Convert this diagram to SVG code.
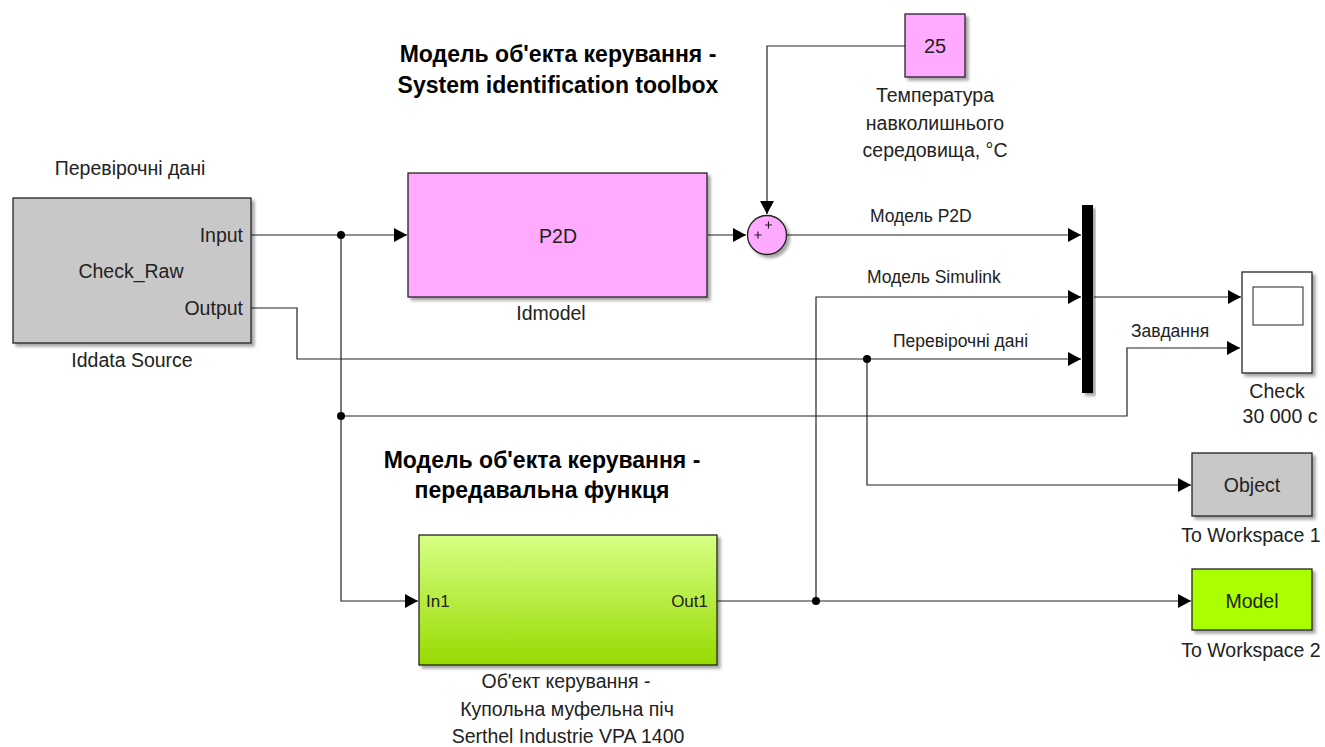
<svg xmlns="http://www.w3.org/2000/svg" width="1325" height="747" viewBox="0 0 1325 747">
<style>
text{font-family:"Liberation Sans",Arial,sans-serif;font-size:19.5px;fill:#222}
.t{font-size:23px;font-weight:bold;fill:#000}
.l{font-size:17.5px}
.p{font-size:17px}
.c{text-anchor:middle}
.r{text-anchor:end}
.blk{stroke:#222;stroke-width:1.3}
.w{fill:none;stroke:#222;stroke-width:1.2}
</style>
<defs>
<marker id="a" markerUnits="userSpaceOnUse" markerWidth="14" markerHeight="14" refX="13" refY="7" orient="auto"><path d="M0,0 L13,7 L0,14 Z" fill="#000"/></marker>
<filter id="sh" x="-10%" y="-10%" width="130%" height="130%"><feDropShadow dx="3" dy="3" stdDeviation="1.5" flood-color="#000" flood-opacity="0.35"/></filter>
<linearGradient id="g" x1="0" y1="0" x2="0" y2="1"><stop offset="0" stop-color="#d8ff85"/><stop offset="1" stop-color="#97da00"/></linearGradient>
</defs>
<rect width="1325" height="747" fill="#fff"/>
<text class="t c" x="558" y="62">Модель об'екта керування -</text>
<text class="t c" x="558" y="93">System identification toolbox</text>
<text class="t c" x="542" y="468">Модель об'екта керування -</text>
<text class="t c" x="542" y="498">передавальна функця</text>
<g id="connectors">
<path class="w" d="M251,235 H407" marker-end="url(#a)"/>
<path class="w" d="M341,235 V601 H418" marker-end="url(#a)"/>
<path class="w" d="M341,416 H1127 V348 H1240" marker-end="url(#a)"/>
<path class="w" d="M251,308 H297 V359 H1081" marker-end="url(#a)"/>
<path class="w" d="M867,359 V485 H1191" marker-end="url(#a)"/>
<path class="w" d="M708,235 H746" marker-end="url(#a)"/>
<path class="w" d="M905,46 H767 V214" marker-end="url(#a)"/>
<path class="w" d="M787,235 H1081" marker-end="url(#a)"/>
<path class="w" d="M1094,297 H1241" marker-end="url(#a)"/>
<path class="w" d="M717,601 H1191" marker-end="url(#a)"/>
<path class="w" d="M816,601 V297 H1081" marker-end="url(#a)"/>
<circle cx="341" cy="235" r="4" fill="#000"/>
<circle cx="341" cy="416" r="4" fill="#000"/>
<circle cx="867" cy="359" r="4" fill="#000"/>
<circle cx="816" cy="601" r="4" fill="#000"/>
<text class="l" x="870" y="222">Модель P2D</text>
<text class="l" x="867" y="283">Модель Simulink</text>
<text class="l" x="893" y="347">Перевірочні дані</text>
<text class="l" x="1131" y="337">Завдання</text>
</g>
<g id="iddata">
<rect class="blk" x="13" y="198" width="238" height="145" fill="#c8c8c8" filter="url(#sh)"/>
<text class="r" x="243" y="242">Input</text>
<text class="c" x="131" y="278">Check_Raw</text>
<text class="r" x="243" y="315">Output</text>
<text class="c" x="130" y="175">Перевірочні дані</text>
<text class="c" x="132" y="367">Iddata Source</text>
</g>
<g id="idmodel">
<rect class="blk" x="408" y="173" width="299" height="124" fill="#ffaaff" filter="url(#sh)"/>
<text class="c" x="558" y="243">P2D</text>
<text class="c" x="551" y="320">Idmodel</text>
</g>
<g id="sum">
<circle class="blk" cx="767" cy="235" r="19.5" fill="#ffaaff" filter="url(#sh)"/>
<path d="M754.5,235 h7 M758,231.5 v7 M765,225 h7 M768.5,221.5 v7" stroke="#222" stroke-width="1.2"/>
</g>
<g id="const">
<rect class="blk" x="905" y="14" width="60" height="63" fill="#ffaaff" filter="url(#sh)"/>
<text class="c" x="935" y="53" style="font-size:20px">25</text>
<text class="c" x="935" y="102">Температура</text>
<text class="c" x="935" y="129.5">навколишнього</text>
<text class="c" x="935" y="157">середовища, °C</text>
</g>
<g id="mux">
<rect x="1082" y="205" width="11" height="188" fill="#000" filter="url(#sh)"/>
</g>
<g id="scope">
<rect class="blk" x="1242" y="272" width="70" height="101" fill="#fff" filter="url(#sh)"/>
<rect x="1253" y="287" width="50" height="38" fill="#fff" stroke="#222" stroke-width="1"/>
<text class="c" x="1277" y="398">Check</text>
<text class="c" x="1280" y="423">30 000 с</text>
</g>
<g id="subsystem">
<rect class="blk" x="419" y="535" width="298" height="130" fill="url(#g)" filter="url(#sh)"/>
<text class="p" x="426" y="607">In1</text>
<text class="p r" x="708" y="607">Out1</text>
<text class="c" x="566" y="688">Об'ект керування -</text>
<text class="c" x="567" y="716">Купольна муфельна піч</text>
<text class="c" x="568" y="743">Serthel Industrie VPA 1400</text>
</g>
<g id="object">
<rect class="blk" x="1192" y="453" width="120" height="63" fill="#c8c8c8" filter="url(#sh)"/>
<text class="c" x="1252" y="492">Object</text>
<text class="c" x="1251" y="542">To Workspace 1</text>
</g>
<g id="model">
<rect class="blk" x="1192" y="569" width="120" height="61" fill="#aaff00" filter="url(#sh)"/>
<text class="c" x="1252" y="608">Model</text>
<text class="c" x="1251" y="657">To Workspace 2</text>
</g>
</svg>
